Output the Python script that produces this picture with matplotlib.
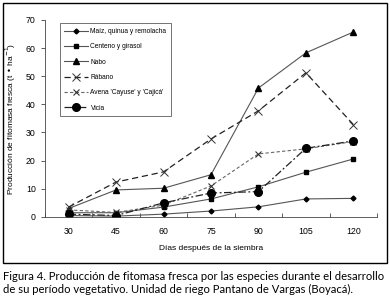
import numpy as np
import matplotlib.pyplot as plt
from matplotlib.patches import Rectangle

# ------------------------------------------------------------
# Data
# ------------------------------------------------------------

dias = ["30", "45", "60", "75", "90", "105", "120"]

maiz = [0.5, 0.3, 1.0, 2.1, 3.6, 6.4, 6.6]
centeno = [1.5, 1.5, 3.5, 6.4, 10.7, 15.9, 20.6]
nabo = [3.0, 9.6, 10.2, 15.0, 45.8, 58.3, 65.7]
rabano = [3.5, 12.4, 16.0, 27.7, 37.7, 51.2, 32.8]
avena = [2.5, 1.6, 4.2, 11.0, 22.4, 24.2, 26.8]
vicia = [1.0, 0.5, 5.0, 8.5, 9.0, 24.4, 27.0]

labels = ["Maíz, quinua y remolacha", "Centeno y girasol", "Nabo",
          "Rábano", "Avena 'Cayuse' y 'Cajicá'", "Vicia"]

caption = ("Figura 4. Producción de fitomasa fresca por las especies durante el desarrollo\n"
           "de su período vegetativo. Unidad de riego Pantano de Vargas (Boyacá).")

# ------------------------------------------------------------
# Plot
# ------------------------------------------------------------

plt.rcParams['font.family'] = ['Liberation Sans', 'DejaVu Sans']

fig = plt.figure(figsize=(3.9, 3.06), dpi=100)
ax = fig.add_axes([0.115, 0.291, 0.852, 0.644])

x = np.arange(len(dias))
lc = "#555555"

ax.plot(x, maiz, color=lc, lw=0.8, marker="D", ms=2.5, mfc="k", mec="k",
        label=labels[0])
ax.plot(x, centeno, color=lc, lw=0.8, marker="s", ms=3.5, mfc="k", mec="k",
        label=labels[1])
ax.plot(x, nabo, color=lc, lw=0.8, marker="^", ms=5, mfc="k", mec="k",
        label=labels[2])
ax.plot(x, rabano, color="#222222", lw=0.9, ls=(0, (5, 3)), marker="x", ms=6,
        mew=0.7, mec="#333333", label=labels[3])
ax.plot(x, avena, color="#666666", lw=0.8, ls=(0, (3, 2)), marker="x", ms=4,
        mew=0.8, mec="#333333", label=labels[4])
ax.plot(x, vicia, color="#222222", lw=0.9, ls=(0, (6, 2, 1.5, 2)), marker="o",
        ms=5.5, mfc="k", mec="k", label=labels[5])

ax.set_xlim(-0.5, 6.5)
ax.set_ylim(0, 70)
ax.set_xticks(x)
ax.set_xticklabels(dias)
ax.set_xticks(np.arange(-0.5, 7, 1), minor=True)
ax.tick_params(axis="x", which="major", length=0, labelsize=6.3, pad=7)
ax.tick_params(axis="x", which="minor", length=3, width=0.6, direction="in",
               color="#444444")
ax.set_yticks(range(0, 71, 10))
ax.tick_params(axis="y", labelsize=6.3, length=3, width=0.6, color="#444444")

for s in ["top", "right"]:
    ax.spines[s].set_visible(False)
for s in ["left", "bottom"]:
    ax.spines[s].set_linewidth(0.6)
    ax.spines[s].set_color("#444444")

ax.set_xlabel("Días después de la siembra", fontsize=6, labelpad=7)
ax.set_ylabel("Producción de fitomasa fresca (t • ha$^{-1}$)", fontsize=6,
              labelpad=6)

leg = ax.legend(loc="upper left", bbox_to_anchor=(0.035, 1.0), fontsize=4.8,
                frameon=True, fancybox=False, edgecolor="#333333",
                handlelength=3.6, labelspacing=1.25, borderpad=0.7,
                handletextpad=0.3)
leg.get_frame().set_linewidth(0.6)

# outer frame around the chart
fig.patches.append(Rectangle((3 / 390, 1 - 263 / 306), 384 / 390, 260 / 306,
                             transform=fig.transFigure, fill=False,
                             edgecolor="k", lw=1.0))

fig.text(0.008, 0.035, caption, fontsize=8.1, ha="left", va="bottom",
         family=["Lato", "DejaVu Sans"], linespacing=1.3)

fig.savefig("out.png", dpi=100)
